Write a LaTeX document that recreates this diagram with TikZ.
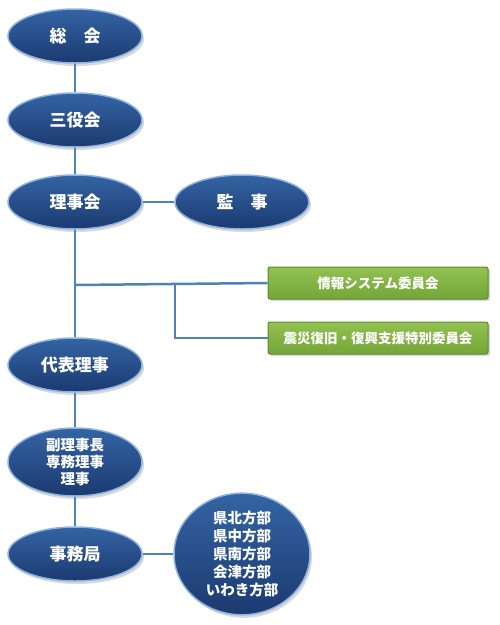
\documentclass[tikz,border=0pt]{standalone}
\usepackage{fontspec}
\setmainfont{Noto Sans CJK JP}
\usepackage{tikz}
\usetikzlibrary{shapes.geometric,shadows}
\definecolor{ovaltop}{HTML}{3464A4}
\definecolor{ovalbot}{HTML}{1B3A70}
\definecolor{rimblue}{HTML}{8EB3E0}
\definecolor{linkblue}{HTML}{4F81BD}
\definecolor{paneltop}{HTML}{93C152}
\definecolor{panelbot}{HTML}{74A538}
\definecolor{panelrim}{HTML}{5C8A2A}

\begin{document}
\begin{tikzpicture}[x=1pt, y=-1pt, every node/.style={text=white, align=center, font=\bfseries\fontsize{17}{20}\selectfont},
	oval/.style={ellipse, draw=rimblue, line width=1.5pt, top color=ovaltop, bottom color=ovalbot, minimum width=134pt, minimum height=54pt, inner sep=0pt, drop shadow={shadow xshift=2pt, shadow yshift=-3pt, opacity=0.3}},
	panel/.style={rectangle, rounded corners=2pt, draw=panelrim, line width=1pt, top color=paneltop, bottom color=panelbot, minimum width=220pt, minimum height=32pt, font=\bfseries\fontsize{13.5}{16}\selectfont, drop shadow={shadow xshift=2pt, shadow yshift=-2pt, opacity=0.3}},
	link/.style={draw=linkblue, line width=2.5pt}]
	\useasboundingbox (0,0) rectangle (500,625);
	\node[oval] (soukai) at (75,36) {総　会};
	\node[oval] (sanyaku) at (75,120) {三役会};
	\node[oval] (rijikai) at (75,202) {理事会};
	\node[oval] (kanji) at (242,202) {監　事};
	\node[panel] (joho) at (378,283) {情報システム委員会};
	\node[panel] (shinsai) at (378,338) {震災復旧・復興支援特別委員会};
	\node[oval] (daihyo) at (75,365) {代表理事};
	\node[oval, minimum height=68pt, font=\bfseries\fontsize{14.5}{17}\selectfont] (fuku) at (75,462) {副理事長\\専務理事\\理事};
	\node[oval] (jimu) at (75,554) {事務局};
	\node[oval, minimum width=136pt, minimum height=116pt, font=\bfseries\fontsize{14.5}{18}\selectfont] (hobu) at (242,554) {県北方部\\県中方部\\県南方部\\会津方部\\いわき方部};
	\coordinate (fork) at (75,285);
	\coordinate (split) at (175,285);
	\draw[link] (soukai) -- (sanyaku);
	\draw[link] (sanyaku) -- (rijikai);
	\draw[link] (rijikai) -- (kanji);
	\draw[link] (rijikai) -- (daihyo);
	\draw[link] (fork) -- (joho.west);
	\draw[link] (split) |- (shinsai.west);
	\draw[link] (daihyo) -- (fuku);
	\draw[link] (fuku) -- (jimu);
	\draw[link] (jimu) -- (hobu);
\end{tikzpicture}
\end{document}
